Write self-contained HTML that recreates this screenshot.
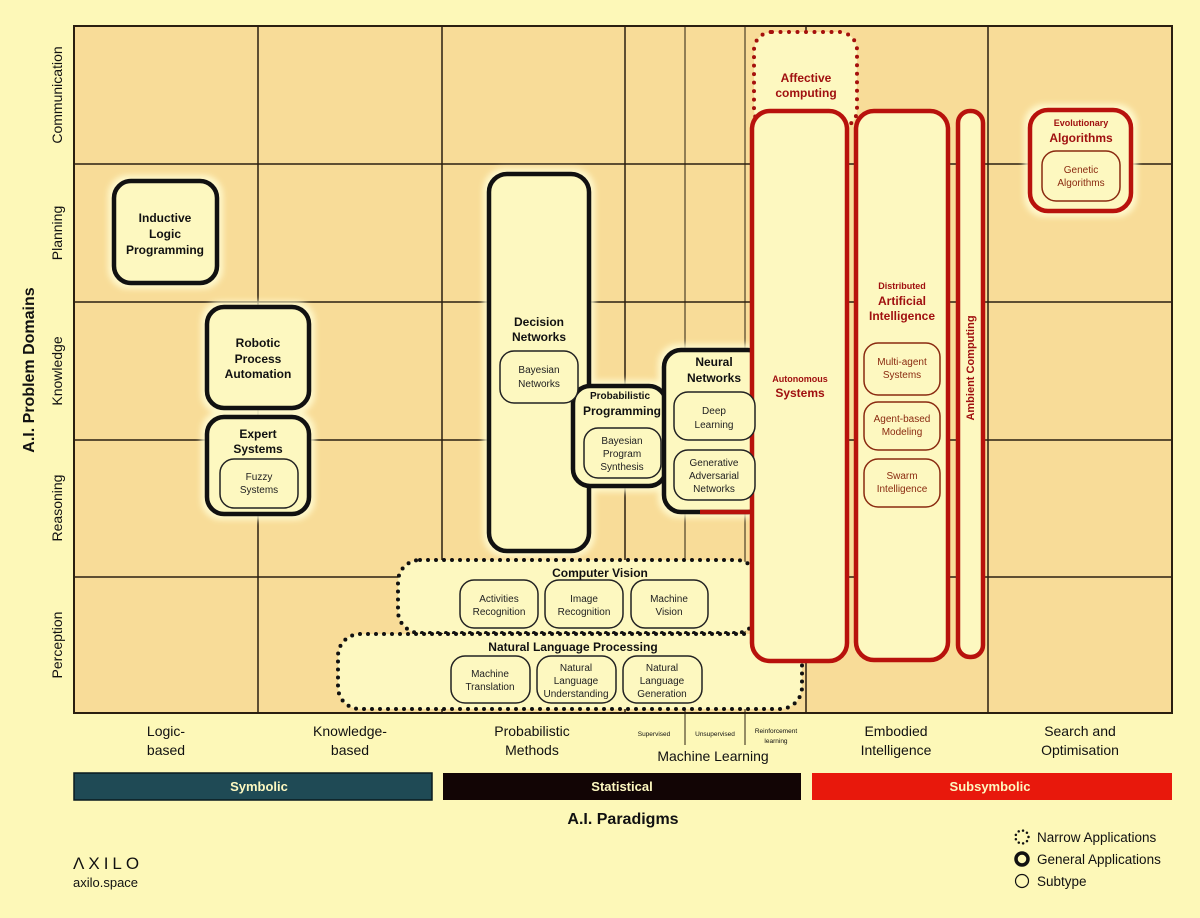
<!DOCTYPE html>
<html><head><meta charset="utf-8"><style>
html,body{margin:0;padding:0;background:#fdf8b8;}
svg{display:block;font-family:"Liberation Sans",sans-serif;}
</style></head><body>
<svg width="1200" height="918" viewBox="0 0 1200 918" xmlns="http://www.w3.org/2000/svg">
<defs>
<filter id="glow" x="-20%" y="-20%" width="140%" height="140%"><feGaussianBlur stdDeviation="3"/></filter>
</defs>
<rect x="0" y="0" width="1200" height="918" fill="#fdf8b8"/>
<rect x="74" y="26" width="1098" height="687" fill="#f8dc98"/>
<g stroke="#2a1f10" stroke-width="1.5" fill="none">
<rect x="74" y="26" width="1098" height="687" stroke-width="2"/>
<line x1="258" y1="26" x2="258" y2="713"/>
<line x1="442" y1="26" x2="442" y2="713"/>
<line x1="625" y1="26" x2="625" y2="713"/>
<line x1="685" y1="26" x2="685" y2="745" stroke-width="1"/>
<line x1="745" y1="26" x2="745" y2="745" stroke-width="1"/>
<line x1="806" y1="26" x2="806" y2="713"/>
<line x1="988" y1="26" x2="988" y2="713"/>
<line x1="74" y1="164" x2="1172" y2="164"/>
<line x1="74" y1="302" x2="1172" y2="302"/>
<line x1="74" y1="440" x2="1172" y2="440"/>
<line x1="74" y1="577" x2="1172" y2="577"/>
</g>
<g fill="#fffbd0" filter="url(#glow)" opacity="0.9">
<rect x="108" y="175" width="115" height="114" rx="20"/>
<rect x="201" y="301" width="114" height="113" rx="20"/>
<rect x="201" y="411" width="114" height="109" rx="20"/>
<rect x="483" y="168" width="112" height="389" rx="22"/>
<rect x="567" y="380" width="105" height="112" rx="20"/>
<rect x="658" y="344" width="113" height="174" rx="20"/>
<rect x="1024" y="104" width="113" height="113" rx="20"/>
</g>
<g fill="#fdf8c0" stroke="#111" stroke-width="4.5">
<rect x="114" y="181" width="103" height="102" rx="17"/>
<rect x="207" y="307" width="102" height="101" rx="17"/>
<rect x="207" y="417" width="102" height="97" rx="17"/>
<rect x="489" y="174" width="100" height="377" rx="18"/>
</g>
<g fill="#fdf8c0" stroke="#111" stroke-width="4" stroke-dasharray="0 8" stroke-linecap="round">
<rect x="398" y="560" width="360" height="73" rx="22"/>
<rect x="338" y="634" width="464" height="75" rx="22"/>
</g>
<g fill="#fdf8c0" stroke="#111" stroke-width="4.5">
<rect x="573" y="386" width="93" height="100" rx="17"/>
</g>
<rect x="664" y="350" width="101" height="162" rx="17" fill="#fdf8c0" stroke="#111" stroke-width="4.5"/>
<path d="M765 372 L765 495 Q765 512 748 512 L700 512" fill="none" stroke="#b8120c" stroke-width="4.5"/>
<rect x="754" y="32" width="103" height="96" rx="18" fill="#fdf8c0" stroke="#a5100c" stroke-width="4" stroke-dasharray="0 8.5" stroke-linecap="round"/>
<g fill="#fdf8c0" stroke="#b8120c" stroke-width="4.5">
<rect x="752" y="111" width="95" height="550" rx="18"/>
<rect x="856" y="111" width="92" height="549" rx="18"/>
<rect x="958" y="111" width="25" height="546" rx="12"/>
<rect x="1030" y="110" width="101" height="101" rx="18"/>
</g>
<g fill="#fdf8c0" stroke="#222" stroke-width="1.5">
<rect x="220" y="459" width="78" height="49" rx="14"/>
<rect x="500" y="351" width="78" height="52" rx="14"/>
<rect x="584" y="428" width="77" height="50" rx="14"/>
<rect x="674" y="392" width="81" height="48" rx="14"/>
<rect x="674" y="450" width="81" height="50" rx="14"/>
<rect x="460" y="580" width="78" height="48" rx="14"/>
<rect x="545" y="580" width="78" height="48" rx="14"/>
<rect x="631" y="580" width="77" height="48" rx="14"/>
<rect x="451" y="656" width="79" height="47" rx="14"/>
<rect x="537" y="656" width="79" height="47" rx="14"/>
<rect x="623" y="656" width="79" height="47" rx="14"/>
</g>
<g fill="#fdf8c0" stroke="#8a2a10" stroke-width="1.5">
<rect x="864" y="343" width="76" height="52" rx="14"/>
<rect x="864" y="402" width="76" height="48" rx="14"/>
<rect x="864" y="459" width="76" height="48" rx="14"/>
<rect x="1042" y="151" width="78" height="50" rx="14"/>
</g>
<g font-weight="bold" fill="#111" font-size="12" text-anchor="middle">
<text x="165" y="222">Inductive</text><text x="165" y="238">Logic</text><text x="165" y="254">Programming</text>
<text x="258" y="347">Robotic</text><text x="258" y="363">Process</text><text x="258" y="378">Automation</text>
<text x="258" y="438">Expert</text><text x="258" y="453">Systems</text>
<text x="539" y="326">Decision</text><text x="539" y="341">Networks</text>
<text x="620" y="399" font-size="10">Probabilistic</text><text x="622" y="415">Programming</text>
<text x="714" y="366">Neural</text><text x="714" y="382">Networks</text>
<text x="600" y="577">Computer Vision</text>
<text x="573" y="651">Natural Language Processing</text>
</g>
<g font-weight="bold" fill="#a01010" text-anchor="middle">
<text x="806" y="82" font-size="12">Affective</text><text x="806" y="97" font-size="12">computing</text>
<text x="800" y="382" font-size="9">Autonomous</text><text x="800" y="397" font-size="12">Systems</text>
<text x="902" y="289" font-size="9">Distributed</text><text x="902" y="305" font-size="12">Artificial</text><text x="902" y="320" font-size="12">Intelligence</text>
<text x="1081" y="126" font-size="9">Evolutionary</text><text x="1081" y="142" font-size="12">Algorithms</text>
<text transform="translate(974,368) rotate(-90)" font-size="11">Ambient Computing</text>
</g>
<g fill="#222" font-size="10" text-anchor="middle">
<text x="259" y="480">Fuzzy</text><text x="259" y="493">Systems</text>
<text x="539" y="373">Bayesian</text><text x="539" y="387">Networks</text>
<text x="622" y="444">Bayesian</text><text x="622" y="457">Program</text><text x="622" y="470">Synthesis</text>
<text x="714" y="414">Deep</text><text x="714" y="428">Learning</text>
<text x="714" y="466">Generative</text><text x="714" y="479">Adversarial</text><text x="714" y="492">Networks</text>
<text x="499" y="602">Activities</text><text x="499" y="615">Recognition</text>
<text x="584" y="602">Image</text><text x="584" y="615">Recognition</text>
<text x="669" y="602">Machine</text><text x="669" y="615">Vision</text>
<text x="490" y="677">Machine</text><text x="490" y="690">Translation</text>
<text x="576" y="671">Natural</text><text x="576" y="684">Language</text><text x="576" y="697">Understanding</text>
<text x="662" y="671">Natural</text><text x="662" y="684">Language</text><text x="662" y="697">Generation</text>
</g>
<g fill="#8a2a10" font-size="10" text-anchor="middle">
<text x="902" y="365">Multi-agent</text><text x="902" y="378">Systems</text>
<text x="902" y="422">Agent-based</text><text x="902" y="435">Modeling</text>
<text x="902" y="479">Swarm</text><text x="902" y="492">Intelligence</text>
<text x="1081" y="173">Genetic</text><text x="1081" y="186">Algorithms</text>
</g>
<g fill="#111" font-size="14" text-anchor="middle">
<text transform="translate(62,95) rotate(-90)">Communication</text>
<text transform="translate(62,233) rotate(-90)">Planning</text>
<text transform="translate(62,371) rotate(-90)">Knowledge</text>
<text transform="translate(62,508) rotate(-90)">Reasoning</text>
<text transform="translate(62,645) rotate(-90)">Perception</text>
</g>
<text transform="translate(34,370) rotate(-90)" text-anchor="middle" font-weight="bold" font-size="16" fill="#111">A.I. Problem Domains</text>
<g fill="#111" font-size="14" text-anchor="middle">
<text x="166" y="736">Logic-</text><text x="166" y="755">based</text>
<text x="350" y="736">Knowledge-</text><text x="350" y="755">based</text>
<text x="532" y="736">Probabilistic</text><text x="532" y="755">Methods</text>
<text x="713" y="761">Machine Learning</text>
<text x="896" y="736">Embodied</text><text x="896" y="755">Intelligence</text>
<text x="1080" y="736">Search and</text><text x="1080" y="755">Optimisation</text>
</g>
<g fill="#111" font-size="6.5" text-anchor="middle">
<text x="654" y="736">Supervised</text>
<text x="715" y="736">Unsupervised</text>
<text x="776" y="733">Reinforcement</text><text x="776" y="743">learning</text>
</g>
<rect x="74" y="773" width="358" height="27" fill="#1f4a55" stroke="#0a1a1f" stroke-width="1.5"/>
<rect x="443" y="773" width="358" height="27" fill="#120505"/>
<rect x="812" y="773" width="360" height="27" fill="#e8180c"/>
<g fill="#fdf8c0" font-weight="bold" font-size="13" text-anchor="middle">
<text x="259" y="791">Symbolic</text><text x="622" y="791">Statistical</text><text x="990" y="791">Subsymbolic</text>
</g>
<text x="623" y="824" text-anchor="middle" font-weight="bold" font-size="16" fill="#111">A.I. Paradigms</text>
<text x="73" y="869" font-size="17" letter-spacing="4" fill="#111">ΛXILO</text>
<text x="73" y="887" font-size="13" fill="#111">axilo.space</text>
<circle cx="1022" cy="837" r="6.5" fill="none" stroke="#111" stroke-width="2.5" stroke-dasharray="0 4.5" stroke-linecap="round"/>
<circle cx="1022" cy="859" r="6" fill="none" stroke="#111" stroke-width="3.5"/>
<circle cx="1022" cy="881" r="6.5" fill="none" stroke="#111" stroke-width="1.2"/>
<g fill="#111" font-size="13.5">
<text x="1037" y="842">Narrow Applications</text>
<text x="1037" y="864">General Applications</text>
<text x="1037" y="886">Subtype</text>
</g>
</svg>
</body></html>
